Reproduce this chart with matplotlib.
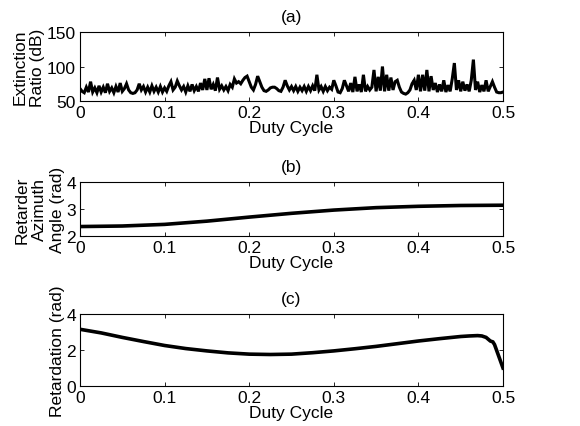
import numpy as np
import matplotlib
matplotlib.use("Agg")
import matplotlib.pyplot as plt

plt.rcParams['font.family'] = ['Liberation Sans', 'DejaVu Sans']

# ---- Data ----
# (a) Extinction ratio (dB), sampled every 0.0025 in duty cycle
duty_a = np.linspace(0.0, 0.5, 201)
extinction_db = [
    68, 64, 62, 70, 63, 78, 63, 69, 62, 72, 63, 70, 62, 75, 64, 69, 62, 71, 63, 76, 64,
    68, 75, 66, 62, 61, 62, 66, 75, 66, 71, 63, 70, 63, 72, 64, 70, 63, 71, 63, 69,
    64, 72, 78, 66, 70, 79, 72, 66, 71, 63, 72, 64, 74, 65, 71, 64, 76, 66, 82, 66,
    83, 67, 74, 65, 84, 67, 72, 66, 71, 65, 74, 70, 82, 76, 78, 75, 80, 84, 86, 78,
    70, 66, 74, 86, 78, 70, 65, 64, 66, 69, 70, 70, 68, 65, 64, 70, 80, 72, 66, 71,
    65, 71, 64, 70, 65, 71, 64, 71, 65, 72, 65, 88, 66, 71, 64, 71, 65, 70, 67, 80,
    72, 63, 62, 68, 80, 72, 64, 76, 63, 85, 64, 74, 63, 88, 64, 71, 66, 70, 95, 64,
    85, 65, 100, 64, 88, 65, 84, 66, 78, 80, 70, 63, 61, 60, 62, 66, 75, 80, 66, 88,
    64, 88, 65, 95, 64, 86, 66, 76, 63, 74, 64, 80, 63, 73, 64, 82, 105, 66, 80, 64,
    78, 65, 74, 64, 80, 110, 66, 78, 63, 73, 64, 80, 64, 71, 78, 70, 63, 62, 62, 63,
]

# (b) Retarder azimuth angle (rad)
duty_b = [0.0, 0.05, 0.1, 0.15, 0.2, 0.25, 0.3, 0.35, 0.4, 0.45, 0.5]
azimuth_rad = [2.35, 2.37, 2.43, 2.55, 2.70, 2.84, 2.96, 3.05, 3.10, 3.13, 3.14]

# (c) Retardation (rad)
duty_c = [0.0, 0.025, 0.05, 0.075, 0.1, 0.125, 0.15, 0.175, 0.2, 0.225, 0.25,
          0.275, 0.3, 0.325, 0.35, 0.375, 0.4, 0.425, 0.45, 0.46, 0.47, 0.475,
          0.48, 0.485, 0.488, 0.49, 0.5]
retardation_rad = [3.15, 2.95, 2.70, 2.47, 2.25, 2.08, 1.95, 1.84, 1.77, 1.75, 1.77,
                   1.85, 1.95, 2.07, 2.20, 2.35, 2.50, 2.63, 2.75, 2.78, 2.80, 2.78,
                   2.70, 2.50, 2.45, 2.30, 1.00]

xticks = [0, 0.1, 0.2, 0.3, 0.4, 0.5]
xticklabels = ['0', '0.1', '0.2', '0.3', '0.4', '0.5']

# ---- Figure ----
W, H = 580, 427
fig = plt.figure(figsize=(W / 100, H / 100), dpi=100)

def rect(l, r, t, b):
    return [l / W, 1 - b / H, (r - l) / W, (b - t) / H]

FS = 12.5
L, R = 80, 503

panels = [
    dict(pos=rect(L, R, 33, 102), x=duty_a, y=extinction_db, ylim=(50, 150),
         yticks=[50, 100, 150], ylabel='Extinction\nRatio (dB)', title='(a)', lw=2.2),
    dict(pos=rect(L, R, 183, 237), x=duty_b, y=azimuth_rad, ylim=(2, 4),
         yticks=[2, 3, 4], ylabel='Retarder\nAzimuth\nAngle (rad)', title='(b)', lw=2.6),
    dict(pos=rect(L, R, 315, 387), x=duty_c, y=retardation_rad, ylim=(0, 4),
         yticks=[0, 2, 4], ylabel='Retardation (rad)', title='(c)', lw=2.6),
]

for p in panels:
    ax = fig.add_axes(p['pos'])
    ax.plot(p['x'], p['y'], color='black', lw=p['lw'], solid_joinstyle='miter')
    ax.set_xlim(0, 0.5)
    ax.set_ylim(*p['ylim'])
    ax.set_xticks(xticks)
    ax.set_xticklabels(xticklabels)
    ax.set_yticks(p['yticks'])
    ax.tick_params(direction='in', top=True, right=True, labelsize=FS,
                   length=3, width=0.6, pad=3)
    ax.tick_params(axis='x', pad=3)
    ax.set_xlabel('Duty Cycle', fontsize=FS, labelpad=0)
    ax.set_ylabel(p['ylabel'], fontsize=FS, labelpad=1, linespacing=1.2)
    ax.set_title(p['title'], fontsize=FS, pad=8)
    for s in ax.spines.values():
        s.set_linewidth(0.8)

fig.savefig('out.png', dpi=100)
